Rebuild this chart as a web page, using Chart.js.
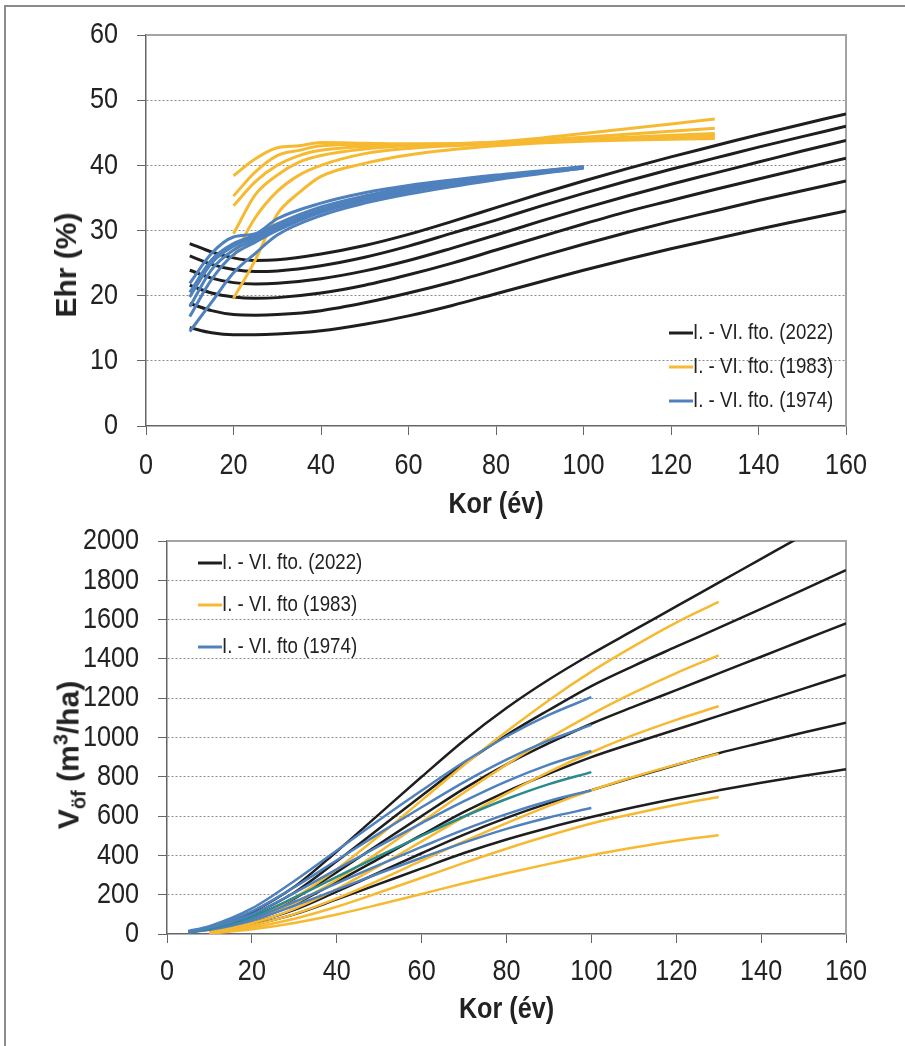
<!DOCTYPE html>
<html>
<head>
<meta charset="utf-8">
<script src="https://cdn.jsdelivr.net/npm/chart.js@4.4.0/dist/chart.umd.min.js"></script>
<style>
  html, body { margin: 0; padding: 0; background: #fff; }
  #page { position: relative; width: 905px; height: 1046px; overflow: hidden; }
  #frame { position: absolute; left: 4px; top: 5px; width: 920px; height: 1060px;
           border-left: 2px solid #8c8c8c; border-top: 2px solid #8c8c8c; }
  canvas { position: absolute; left: 0; }
  #ehrChart { top: 0; }
  #volChart { top: 515px; }
  .ytitle { position: absolute; font: bold 30px 'Liberation Sans', Arial, sans-serif;
            color: #222; white-space: nowrap; transform: translate(-50%, -50%) rotate(-90deg); }
  .ytitle sub, .ytitle sup { font-size: 20px; }
</style>
</head>
<body>
<div id="page">
  <div id="frame"></div>
  <canvas id="ehrChart" width="905" height="530"></canvas>
  <canvas id="volChart" width="905" height="531"></canvas>
  <div class="ytitle" style="left:66px; top:265px;">Ehr (%)</div>
  <div class="ytitle" style="left:70px; top:755px;">V<sub>öf</sub> (m<sup>3</sup>/ha)</div>
</div>
<script>
// Ehr (%) by age, site classes I - VI
const ehrAges2022 = [10, 15, 20, 25, 30, 40, 50, 60, 70, 80, 90, 100, 110, 120, 130, 140, 150, 160];
const ehr2022 = [
    [28.0, 26.7, 25.8, 25.4, 25.5, 26.4, 27.7, 29.4, 31.4, 33.5, 35.6, 37.6, 39.5, 41.3, 43.0, 44.7, 46.3, 47.9],
    [26.1, 24.8, 24.0, 23.7, 23.8, 24.6, 25.9, 27.6, 29.6, 31.6, 33.7, 35.7, 37.6, 39.4, 41.1, 42.8, 44.4, 46.0],
    [23.9, 22.7, 22.0, 21.8, 21.9, 22.6, 23.8, 25.4, 27.3, 29.3, 31.4, 33.4, 35.3, 37.1, 38.8, 40.5, 42.2, 43.8],
    [21.6, 20.4, 19.8, 19.6, 19.7, 20.4, 21.6, 23.2, 25.0, 27.0, 29.0, 31.0, 32.9, 34.6, 36.3, 37.9, 39.5, 41.1],
    [18.8, 17.7, 17.1, 17.0, 17.1, 17.7, 18.9, 20.4, 22.1, 24.0, 26.0, 27.9, 29.7, 31.4, 33.0, 34.6, 36.1, 37.6],
    [15.1, 14.3, 14.0, 14.0, 14.1, 14.6, 15.6, 16.9, 18.5, 20.3, 22.1, 23.9, 25.6, 27.2, 28.7, 30.2, 31.6, 33.0]
];
const ehrAges1983 = [20, 25, 30, 35, 40, 50, 60, 80, 100, 130];
const ehr1983 = [
    [38.4, 41.0, 42.7, 43.0, 43.5, 43.4, 43.3, 43.6, 44.9, 47.1],
    [35.3, 39.0, 41.5, 42.3, 43.0, 43.2, 43.2, 43.5, 44.3, 45.7],
    [33.8, 37.5, 40.0, 41.5, 42.3, 42.9, 43.1, 43.4, 44.0, 44.9],
    [29.5, 35.5, 38.5, 40.5, 41.5, 42.5, 43.0, 43.4, 43.9, 44.6],
    [26.0, 32.0, 36.0, 38.5, 40.0, 41.8, 42.6, 43.3, 43.8, 44.4],
    [19.6, 25.5, 32.5, 35.8, 38.3, 40.3, 41.6, 43.0, 43.7, 44.1]
];
const ehrAges1974 = [10, 15, 20, 25, 30, 40, 50, 60, 80, 100];
const ehr1974 = [
    [21.9, 26.5, 29.0, 29.5, 31.8, 34.2, 35.8, 36.9, 38.5, 39.8],
    [20.5, 25.5, 28.0, 29.3, 31.0, 33.6, 35.3, 36.6, 38.3, 39.8],
    [19.8, 25.0, 27.6, 29.0, 30.6, 33.2, 35.0, 36.4, 38.2, 39.7],
    [18.3, 24.0, 27.0, 28.6, 30.3, 33.0, 34.8, 36.2, 38.1, 39.7],
    [16.8, 22.5, 26.3, 28.2, 30.0, 32.8, 34.6, 36.0, 38.0, 39.6],
    [14.5, 19.0, 23.5, 26.5, 29.3, 32.3, 34.2, 35.6, 37.8, 39.6]
];

// Standing volume (m3/ha) by age
const volAges2022 = [10, 20, 30, 40, 50, 60, 70, 80, 90, 100, 110, 120, 130, 140, 150, 160];
const vol2022 = [
    [10, 110, 240, 420, 610, 800, 985, 1150, 1295, 1425, 1546, 1667, 1788, 1909, 2030, 2150],
    [9, 97, 211, 370, 537, 704, 867, 1012, 1140, 1262, 1365, 1462, 1558, 1655, 1753, 1852],
    [7, 82, 180, 315, 458, 600, 740, 863, 971, 1070, 1157, 1241, 1326, 1411, 1496, 1581],
    [6, 69, 151, 265, 384, 504, 621, 725, 816, 900, 972, 1041, 1110, 1180, 1249, 1318],
    [5, 57, 123, 216, 313, 411, 506, 591, 666, 732, 797, 860, 920, 973, 1025, 1075],
    [4, 46, 100, 176, 255, 334, 412, 481, 541, 595, 645, 690, 731, 770, 805, 838]
];
const volAges1983 = [10, 20, 30, 40, 50, 60, 70, 80, 90, 100, 110, 120, 130];
const vol1983 = [
    [8, 80, 185, 330, 500, 680, 860, 1030, 1190, 1335, 1465, 1585, 1690],
    [7, 67, 155, 276, 418, 569, 720, 862, 996, 1118, 1228, 1328, 1418],
    [6, 55, 128, 229, 347, 471, 596, 714, 825, 925, 1013, 1090, 1159],
    [4, 44, 101, 181, 274, 373, 471, 564, 652, 731, 800, 862, 917],
    [3, 34, 78, 139, 211, 286, 362, 434, 501, 562, 612, 658, 697],
    [2, 24, 56, 99, 150, 204, 258, 309, 357, 401, 440, 475, 503]
];
const volAges1974 = [5, 10, 20, 30, 40, 50, 60, 70, 80, 90, 100];
const vol1974 = [
    [15, 40, 130, 270, 425, 580, 730, 875, 1005, 1115, 1205],
    [13, 35, 115, 238, 375, 512, 645, 773, 887, 985, 1064],
    [12, 31, 100, 209, 329, 448, 564, 676, 777, 862, 931],
    [10, 27, 89, 185, 291, 397, 499, 598, 687, 763, 824],
    [9, 24, 79, 164, 258, 352, 443, 531, 610, 677, 731],
    [8, 21, 69, 144, 226, 309, 388, 465, 535, 593, 641]
];

const FONT = "'Liberation Sans', Arial, sans-serif";
const BLACK = '#1e1e1e';
const ORANGE = '#f6b932';
const BLUE = '#4f81bd';
const TEAL = '#2a8a8c';

function series(ages, rows, colors, width){
    return rows.map((vals, i) => ({
        data: vals.map((v, j) => ({x: ages[j], y: v})),
        borderColor: Array.isArray(colors) ? colors[i] : colors,
        borderWidth: width,
        pointRadius: 0,
        fill: false,
        cubicInterpolationMode: 'monotone'
    }));
}

// text squeezed horizontally, like a narrow typeface
function squeezed(ctx, text, x, y, align, sx){
    ctx.save();
    ctx.translate(x, y);
    ctx.scale(sx, 1);
    ctx.textAlign = align;
    ctx.fillText(text, 0, 0);
    ctx.restore();
}

// grey frame on top and right of the plot
const plotFrame = {
    id: 'plotFrame',
    beforeDatasetsDraw(chart){
        const {ctx, chartArea: a} = chart;
        ctx.save();
        ctx.strokeStyle = '#a3a3a3';
        ctx.lineWidth = 2;
        ctx.beginPath();
        ctx.moveTo(a.left, a.top);
        ctx.lineTo(a.right, a.top);
        ctx.lineTo(a.right, a.bottom);
        ctx.stroke();
        ctx.restore();
    }
};

// tick labels and x title, placed from the chart's own scales
const axisText = {
    id: 'axisText',
    afterDraw(chart, args, o){
        const {ctx, chartArea: a, scales: {x, y}} = chart;
        ctx.save();
        ctx.fillStyle = '#222';
        ctx.textBaseline = 'middle';
        ctx.font = `${o.tickSize}px ${FONT}`;
        x.ticks.forEach((t, i) => squeezed(ctx, String(t.value), x.getPixelForTick(i), a.bottom + o.tickGap, 'center', o.squeeze));
        y.ticks.forEach((t, i) => squeezed(ctx, String(t.value), a.left - 28, y.getPixelForTick(i), 'right', o.squeeze));
        ctx.font = `bold ${o.titleSize}px ${FONT}`;
        squeezed(ctx, o.xTitle, (a.left + a.right) / 2, a.bottom + o.titleGap, 'center', o.squeeze);
        ctx.restore();
    }
};

// small legend: short line sample followed by its text
const keyLegend = {
    id: 'keyLegend',
    afterDraw(chart, args, opts){
        const {ctx} = chart;
        ctx.save();
        ctx.font = opts.font;
        ctx.textBaseline = 'middle';
        opts.items.forEach((item, i) => {
            const y = opts.y + i * opts.gap;
            ctx.strokeStyle = item.color;
            ctx.lineWidth = 3;
            ctx.beginPath();
            ctx.moveTo(opts.x, y);
            ctx.lineTo(opts.x + 24, y);
            ctx.stroke();
            ctx.fillStyle = '#222';
            squeezed(ctx, item.text, opts.x + 24, y, 'left', 0.85);
        });
        ctx.restore();
    }
};

function createChart(canvasId, datasets, yMax, yStep, box, text, legend){
    const ctx = document.getElementById(canvasId);
    return new Chart(ctx, {
        type    : 'line',
        data    : { datasets: datasets },
        plugins : [plotFrame, axisText, keyLegend],
        options : {
            responsive: false,
            animation: false,
            devicePixelRatio: 1,
            layout: { padding: { top: box.top, right: box.right, left: 0, bottom: 0 } },
            plugins: {
                legend: { display: false },
                tooltip: { enabled: false },
                axisText: text,
                keyLegend: legend
            },
            scales  : {
                x   : {
                    type: 'linear',
                    min: 0,
                    max: 160,
                    afterFit: s => { s.height = box.xHeight; },
                    ticks: { stepSize: 20, display: false },
                    grid: { drawOnChartArea: false, tickLength: 9, tickColor: '#666' },
                    border: { color: '#666', width: 1.5 }
                },
                y   : {
                    min: 0,
                    max: yMax,
                    afterFit: s => { s.width = box.yWidth; },
                    ticks: { stepSize: yStep, display: false },
                    grid: {
                        tickLength: 9,
                        tickColor: '#666',
                        lineWidth: 1,
                        color: c => (c.tick.value === 0 || c.tick.value === yMax) ? 'rgba(0,0,0,0)' : '#8a8a8a'
                    },
                    border: { color: '#666', width: 1.5, dash: [2, 2] }
                }
            }
        }
    });
}

createChart('ehrChart',
    [].concat(
        series(ehrAges1974, ehr1974, BLUE, 3),
        series(ehrAges1983, ehr1983, ORANGE, 3),
        series(ehrAges2022, ehr2022, BLACK, 3)
    ),
    60, 10,
    { top: 35, right: 59, yWidth: 146, xHeight: 104 },
    { tickSize: 30, titleSize: 30, squeeze: 0.84, tickGap: 40, titleGap: 79, xTitle: 'Kor (év)' },
    {
        x: 669, y: 333, gap: 34,
        font: `22px ${FONT}`,
        items: [
            { color: BLACK, text: 'I. - VI. fto. (2022)' },
            { color: ORANGE, text: 'I. - VI. fto. (1983)' },
            { color: BLUE, text: 'I. - VI. fto. (1974)' }
        ]
    }
);

createChart('volChart',
    [].concat(
        series(volAges1974, vol1974, [BLUE, BLUE, BLUE, TEAL, BLUE, BLUE], 2.5),
        series(volAges1983, vol1983, ORANGE, 2.5),
        series(volAges2022, vol2022, BLACK, 2.5)
    ),
    2000, 200,
    { top: 26, right: 59, yWidth: 167, xHeight: 112 },
    { tickSize: 30, titleSize: 30, squeeze: 0.84, tickGap: 38, titleGap: 76, xTitle: 'Kor (év)' },
    {
        x: 198, y: 48, gap: 42,
        font: `22px ${FONT}`,
        items: [
            { color: BLACK, text: 'I. - VI. fto. (2022)' },
            { color: ORANGE, text: 'I. - VI. fto (1983)' },
            { color: BLUE, text: 'I. - VI. fto (1974)' }
        ]
    }
);
</script>
</body>
</html>
